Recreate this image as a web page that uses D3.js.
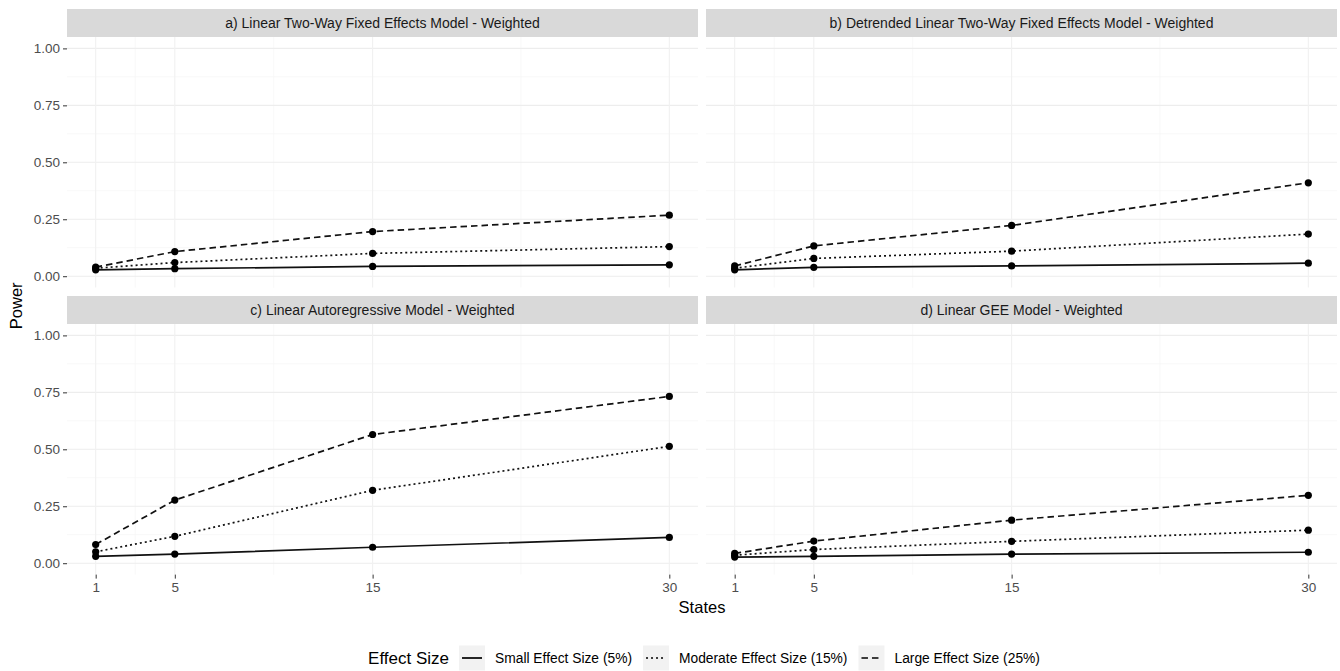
<!DOCTYPE html>
<html>
<head>
<meta charset="utf-8">
<script src="https://cdn.jsdelivr.net/npm/d3@7/dist/d3.min.js"></script>
<style>
  html, body { margin: 0; padding: 0; background: #fff; }
  svg { display: block; font-family: "Liberation Sans", Arial, Helvetica, sans-serif; }
</style>
</head>
<body>
<svg id="chart" width="1340" height="671"></svg>
<script>
// ---------------- Data ----------------
const states = [1, 5, 15, 30];
const yTicks = [0, 0.25, 0.5, 0.75, 1.0];
const yTickLabels = ["0.00", "0.25", "0.50", "0.75", "1.00"];
const xTickLabels = ["1", "5", "15", "30"];

const panelTitles = [
  "a) Linear Two-Way Fixed Effects Model - Weighted",
  "b) Detrended Linear Two-Way Fixed Effects Model - Weighted",
  "c) Linear Autoregressive Model - Weighted",
  "d) Linear GEE Model - Weighted"
];

const effectSizes = ["Small Effect Size (5%)", "Moderate Effect Size (15%)", "Large Effect Size (25%)"];
const legendTitle = "Effect Size";
const xTitle = "States";
const yTitle = "Power";

// Panel a
const powerA_small    = [0.028, 0.033, 0.043, 0.050];
const powerA_moderate = [0.035, 0.060, 0.100, 0.130];
const powerA_large    = [0.040, 0.108, 0.196, 0.268];
// Panel b
const powerB_small    = [0.028, 0.039, 0.045, 0.057];
const powerB_moderate = [0.035, 0.078, 0.110, 0.185];
const powerB_large    = [0.045, 0.133, 0.223, 0.410];
// Panel c
const powerC_small    = [0.030, 0.040, 0.070, 0.113];
const powerC_moderate = [0.050, 0.118, 0.320, 0.513];
const powerC_large    = [0.082, 0.277, 0.565, 0.732];
// Panel d
const powerD_small    = [0.027, 0.030, 0.040, 0.048];
const powerD_moderate = [0.035, 0.060, 0.096, 0.145];
const powerD_large    = [0.043, 0.097, 0.189, 0.298];

const panelSeries = [
  [powerA_small, powerA_moderate, powerA_large],
  [powerB_small, powerB_moderate, powerB_large],
  [powerC_small, powerC_moderate, powerC_large],
  [powerD_small, powerD_moderate, powerD_large]
];

// ---------------- Layout ----------------
const svg = d3.select("#chart");
const left = 67, right = 1337, colGap = 8;
const panelW = (right - left - colGap) / 2;
const stripH = 28;
const rowTops = [9, 296];
const panelH = 250.6;
const dashes = [null, "2,3", "6.5,4"];
const lineW = 1.7;

const xDomain = [1 - 0.05 * 29, 30 + 0.05 * 29];
const yDomain = [-0.05, 1.05];

const minorY = [0.125, 0.375, 0.625, 0.875];
const minorX = [3, 10, 22.5];

panelTitles.forEach((title, i) => {
  const col = i % 2, row = Math.floor(i / 2);
  const px = left + col * (panelW + colGap);
  const sy = rowTops[row];
  const py = sy + stripH;

  const x = d3.scaleLinear().domain(xDomain).range([px, px + panelW]);
  const y = d3.scaleLinear().domain(yDomain).range([py + panelH, py]);

  const g = svg.append("g");

  // strip
  g.append("rect").attr("x", px).attr("y", sy).attr("width", panelW).attr("height", stripH)
    .attr("fill", "#d9d9d9");
  g.append("text").attr("x", px + panelW / 2).attr("y", sy + stripH / 2)
    .attr("text-anchor", "middle").attr("dominant-baseline", "central")
    .attr("font-size", 14).attr("fill", "#1a1a1a").text(title);

  // grid
  const grid = g.append("g");
  minorY.forEach(v => grid.append("line").attr("x1", px).attr("x2", px + panelW)
    .attr("y1", y(v)).attr("y2", y(v)).attr("stroke", "#f5f5f5").attr("stroke-width", 0.7));
  minorX.forEach(v => grid.append("line").attr("x1", x(v)).attr("x2", x(v))
    .attr("y1", py).attr("y2", py + panelH).attr("stroke", "#f5f5f5").attr("stroke-width", 0.7));
  yTicks.forEach(v => grid.append("line").attr("x1", px).attr("x2", px + panelW)
    .attr("y1", y(v)).attr("y2", y(v)).attr("stroke", "#ededed").attr("stroke-width", 1.1));
  states.forEach(v => grid.append("line").attr("x1", x(v)).attr("x2", x(v))
    .attr("y1", py).attr("y2", py + panelH).attr("stroke", "#f1f1f1").attr("stroke-width", 1.1));

  // axes
  if (col === 0) {
    const ay = d3.axisLeft(y).tickValues(yTicks).tickSize(4).tickPadding(3)
      .tickFormat((d, k) => yTickLabels[k]);
    const axg = g.append("g").attr("transform", `translate(${px},0)`).call(ay);
    axg.select(".domain").remove();
    axg.selectAll(".tick line").attr("stroke", "#333").attr("stroke-width", 1);
    axg.selectAll(".tick text").attr("font-size", 13.5).attr("fill", "#4d4d4d")
      .attr("font-family", "Liberation Sans, Arial, sans-serif");
  }
  if (row === 1) {
    const ax = d3.axisBottom(x).tickValues(states).tickSize(4).tickPadding(4)
      .tickFormat((d, k) => xTickLabels[k]);
    const axg = g.append("g").attr("transform", `translate(0,${py + panelH})`).call(ax);
    axg.select(".domain").remove();
    axg.selectAll(".tick line").attr("stroke", "#333").attr("stroke-width", 1);
    axg.selectAll(".tick text").attr("font-size", 13.5).attr("fill", "#4d4d4d")
      .attr("font-family", "Liberation Sans, Arial, sans-serif");
  }

  // lines & points
  const line = d3.line().x((d, k) => x(states[k])).y(d => y(d));
  panelSeries[i].forEach((vals, s) => {
    const p = g.append("path").datum(vals).attr("d", line)
      .attr("fill", "none").attr("stroke", "#111").attr("stroke-width", lineW);
    if (dashes[s]) p.attr("stroke-dasharray", dashes[s]);
  });
  panelSeries[i].forEach(vals => {
    g.selectAll(null).data(vals).enter().append("circle")
      .attr("cx", (d, k) => x(states[k])).attr("cy", d => y(d)).attr("r", 3.6).attr("fill", "#000");
  });
});

// axis titles
svg.append("text").attr("x", (left + right) / 2).attr("y", 607)
  .attr("text-anchor", "middle").attr("dominant-baseline", "central")
  .attr("font-size", 16.5).attr("fill", "#000").text(xTitle);
svg.append("text").attr("transform", `translate(16,${(rowTops[0] + stripH + rowTops[1] + stripH + panelH) / 2}) rotate(-90)`)
  .attr("text-anchor", "middle").attr("dominant-baseline", "central")
  .attr("font-size", 16.5).attr("fill", "#000").text(yTitle);

// legend
const leg = svg.append("g");
const legY = 658;
const keyW = 26, keyH = 25;
let cx = 0;
const t = leg.append("text").attr("x", cx).attr("y", legY).attr("dominant-baseline", "central")
  .attr("font-size", 17).attr("fill", "#000").text(legendTitle);
cx += t.node().getComputedTextLength() + 10;
effectSizes.forEach((lab, s) => {
  leg.append("rect").attr("x", cx).attr("y", legY - keyH / 2).attr("width", keyW).attr("height", keyH)
    .attr("fill", "#f2f2f2");
  const kl = leg.append("line").attr("x1", cx + 3).attr("x2", cx + keyW - 3)
    .attr("y1", legY).attr("y2", legY).attr("stroke", "#000").attr("stroke-width", lineW);
  if (dashes[s]) kl.attr("stroke-dasharray", dashes[s]);
  cx += keyW + 10;
  const tl = leg.append("text").attr("x", cx).attr("y", legY).attr("dominant-baseline", "central")
    .attr("font-size", 13.8).attr("fill", "#000").text(lab);
  cx += tl.node().getComputedTextLength() + 11;
});
const totalW = cx - 11;
leg.attr("transform", `translate(${704 - totalW / 2},0)`);
</script>
</body>
</html>
